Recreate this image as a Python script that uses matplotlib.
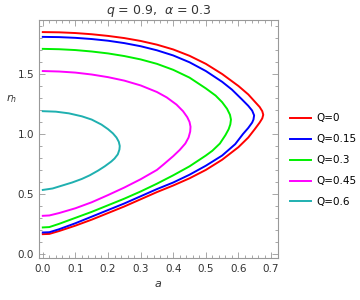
import matplotlib
matplotlib.use("Agg")
import matplotlib.pyplot as plt
from matplotlib.ticker import MultipleLocator, FormatStrFormatter

# datos: rama superior -> punta -> rama inferior
q_labels = ["Q=0", "Q=0.15", "Q=0.3", "Q=0.45", "Q=0.6"]

a_q0 = [0, 0.05, 0.1, 0.15, 0.2, 0.25, 0.3, 0.35, 0.4, 0.45, 0.5, 0.55, 0.6, 0.63, 0.65, 0.665,
        0.673, 0.676, 0.673, 0.665, 0.65, 0.63, 0.6, 0.55, 0.5, 0.45, 0.4, 0.35, 0.3, 0.25,
        0.2, 0.15, 0.1, 0.05, 0.02, 0]
r_q0 = [1.85, 1.848, 1.842, 1.832, 1.818, 1.8, 1.776, 1.745, 1.705, 1.652, 1.585, 1.5, 1.4, 1.33,
        1.27, 1.225, 1.19, 1.16, 1.13, 1.095, 1.04, 0.97, 0.89, 0.785, 0.7, 0.63, 0.57, 0.515,
        0.455, 0.395, 0.34, 0.285, 0.235, 0.19, 0.166, 0.164]

a_q15 = [0, 0.05, 0.1, 0.15, 0.2, 0.25, 0.3, 0.35, 0.4, 0.45, 0.5, 0.55, 0.58, 0.61, 0.63, 0.642,
         0.648, 0.646, 0.642, 0.63, 0.614, 0.59, 0.55, 0.5, 0.45, 0.4, 0.35, 0.3, 0.25, 0.2,
         0.15, 0.1, 0.05, 0.02, 0]
r_q15 = [1.81, 1.808, 1.802, 1.792, 1.778, 1.758, 1.732, 1.698, 1.655, 1.598, 1.525, 1.435, 1.37,
         1.29, 1.235, 1.195, 1.155, 1.12, 1.095, 1.05, 1.0, 0.915, 0.82, 0.735, 0.66, 0.595,
         0.54, 0.48, 0.42, 0.365, 0.31, 0.255, 0.205, 0.18, 0.178]

a_q30 = [0, 0.05, 0.1, 0.15, 0.2, 0.25, 0.3, 0.35, 0.4, 0.45, 0.5, 0.53, 0.55, 0.565, 0.574,
         0.577, 0.575, 0.57, 0.56, 0.543, 0.52, 0.5, 0.45, 0.4, 0.35, 0.3, 0.25, 0.2, 0.15,
         0.1, 0.05, 0.02, 0]
r_q30 = [1.71, 1.707, 1.7, 1.688, 1.672, 1.65, 1.622, 1.585, 1.535, 1.47, 1.38, 1.32, 1.265,
         1.21, 1.16, 1.12, 1.08, 1.04, 0.99, 0.92, 0.86, 0.82, 0.73, 0.655, 0.585, 0.52, 0.46,
         0.405, 0.35, 0.3, 0.25, 0.223, 0.22]

a_q45 = [0, 0.05, 0.1, 0.15, 0.2, 0.25, 0.3, 0.35, 0.38, 0.41, 0.43, 0.443, 0.45, 0.453, 0.452,
         0.447, 0.437, 0.42, 0.4, 0.37, 0.35, 0.3, 0.25, 0.2, 0.15, 0.1, 0.05, 0.02, 0]
r_q45 = [1.525, 1.521, 1.512, 1.496, 1.474, 1.445, 1.405, 1.35, 1.305, 1.245, 1.19, 1.14, 1.1,
         1.06, 1.02, 0.97, 0.92, 0.867, 0.815, 0.745, 0.7, 0.622, 0.553, 0.49, 0.43, 0.38,
         0.34, 0.32, 0.317]

a_q60 = [0, 0.04, 0.08, 0.12, 0.15, 0.18, 0.2, 0.215, 0.226, 0.233, 0.236, 0.235, 0.23, 0.22,
         0.21, 0.19, 0.17, 0.144, 0.12, 0.09, 0.06, 0.03, 0]
r_q60 = [1.19, 1.186, 1.172, 1.147, 1.12, 1.078, 1.04, 1.005, 0.97, 0.935, 0.9, 0.87, 0.83,
         0.795, 0.77, 0.73, 0.695, 0.655, 0.625, 0.595, 0.57, 0.545, 0.533]

datos_a = [a_q0, a_q15, a_q30, a_q45, a_q60]
datos_r = [r_q0, r_q15, r_q30, r_q45, r_q60]
colores = ["#ff0000", "#0000ff", "#00f000", "#ff00ff", "#1fb0b0"]

plt.rcParams["font.family"] = ["DejaVu Sans"]
plt.rcParams["mathtext.fontset"] = "dejavusans"

fig = plt.figure(figsize=(3.6, 3.0), dpi=100)
ax = fig.add_axes([0.108, 0.14, 0.664, 0.795])

for a, r, c, lab in zip(datos_a, datos_r, colores, q_labels):
    ax.plot(a, r, color=c, lw=1.4, label=lab, solid_joinstyle="round")

ax.set_xlim(-0.012, 0.721)
ax.set_ylim(-0.035, 1.955)
ax.xaxis.set_major_locator(MultipleLocator(0.1))
ax.xaxis.set_minor_locator(MultipleLocator(0.02))
ax.yaxis.set_major_locator(MultipleLocator(0.5))
ax.yaxis.set_minor_locator(MultipleLocator(0.1))
ax.xaxis.set_major_formatter(FormatStrFormatter("%.1f"))
ax.yaxis.set_major_formatter(FormatStrFormatter("%.1f"))

for s in ax.spines.values():
    s.set_color("#999999")
    s.set_linewidth(0.8)
ax.tick_params(which="both", direction="in", top=True, right=True, color="#999999",
               labelsize=7.5, labelcolor="#333333", width=0.6)
ax.tick_params(which="major", length=4)
ax.tick_params(which="minor", length=2)
ax.tick_params(axis="x", pad=4)

ax.set_title(r"$q$ = 0.9,  $\alpha$ = 0.3", fontsize=9, color="#333333", pad=4)
ax.set_xlabel(r"$a$", fontsize=8, color="#333333", labelpad=4)
ax.set_ylabel(r"$r_h$", fontsize=8, color="#333333", rotation=0)
ax.yaxis.set_label_coords(-0.115, 0.64)

ax.legend(loc="center left", bbox_to_anchor=(1.01, 0.41), frameon=False, fontsize=7.5,
          handlelength=2.0, labelspacing=1.05, handletextpad=0.6)

fig.savefig("out.png", dpi=100)
